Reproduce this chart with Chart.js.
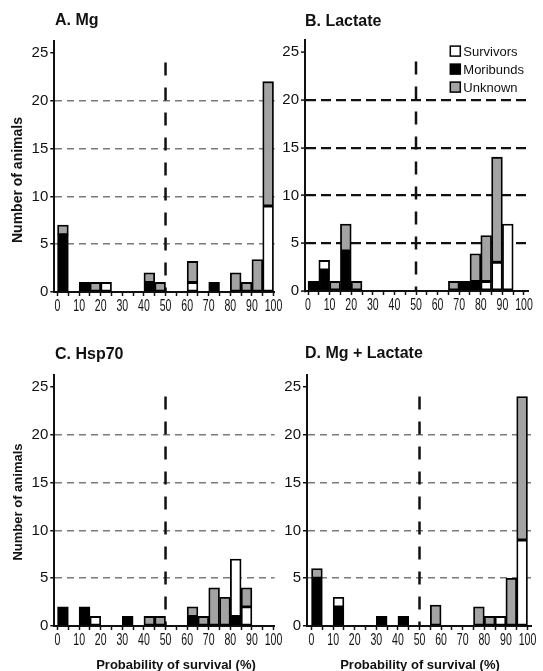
<!DOCTYPE html>
<html>
<head>
<meta charset="utf-8">
<script src="https://cdn.jsdelivr.net/npm/chart.js@4.4.1/dist/chart.umd.min.js"></script>
<style>
body { margin: 0; background: #fff; }
#wrap { position: relative; width: 543px; height: 671px; overflow: hidden; font-family: "Liberation Sans", Arial, sans-serif; color: #111; }
canvas { position: absolute; }
.t { position: absolute; white-space: nowrap; line-height: 1; font-weight: bold; }
.c { transform: translate(-50%, -50%); }
.r { transform: translate(-50%, -50%) rotate(-90deg); }
</style>
</head>
<body>
<div id="wrap">
  <canvas id="panelA" width="290" height="330" style="left:0;top:0"></canvas>
  <canvas id="panelB" width="271" height="330" style="left:272px;top:0"></canvas>
  <canvas id="panelC" width="290" height="341" style="left:0;top:330px"></canvas>
  <canvas id="panelD" width="271" height="341" style="left:272px;top:330px"></canvas>

  <div class="t" style="left:55px;top:12px;font-size:16px">A. Mg</div>
  <div class="t" style="left:305px;top:13px;font-size:16px">B. Lactate</div>
  <div class="t" style="left:55px;top:346px;font-size:16px">C. Hsp70</div>
  <div class="t" style="left:305px;top:345px;font-size:16px">D. Mg + Lactate</div>

  <div class="t r" style="left:17px;top:180px;font-size:14px">Number of animals</div>
  <div class="t r" style="left:17px;top:502px;font-size:13px">Number of animals</div>
  <div class="t c" style="left:176px;top:664px;font-size:13px">Probability of survival (%)</div>
  <div class="t c" style="left:420px;top:664px;font-size:13px">Probability of survival (%)</div>
</div>

<script>
// bins of 5 % width, 0-5, 5-10 ... 95-100
const binStarts = [0, 5, 10, 15, 20, 25, 30, 35, 40, 45, 50, 55, 60, 65, 70, 75, 80, 85, 90, 95];
const xTickValues = [0, 5, 10, 15, 20, 25, 30, 35, 40, 45, 50, 55, 60, 65, 70, 75, 80, 85, 90, 95, 100];
const xLabelValues = [0, 10, 20, 30, 40, 50, 60, 70, 80, 90, 100];
const yTickValues = [0, 5, 10, 15, 20, 25];
const gridValues = [5, 10, 15, 20];
const legendLabels = ["Survivors", "Moribunds", "Unknown"];
const cutoff = 50;
const cutoffTop = 24;

// A. Mg
const mgMoribunds = [6, null, 1, null, null, null, null, null, 1, null, null, null, null, null, 1, null, null, null, null, null];
const mgSurvivors = [null, null, null, null, 1, null, null, null, null, null, null, null, 1, null, null, null, null, null, null, 9];
const mgUnknown   = [1, null, null, 1, null, null, null, null, 1, 1, null, null, 2.2, null, null, null, 2, 1, 3.4, 13];

// B. Lactate
const lacMoribunds = [1, 2.2, null, 4.2, null, null, null, null, null, null, null, null, null, null, 1, 1, null, null, null, null];
const lacSurvivors = [null, 1, null, null, null, null, null, null, null, null, null, null, null, null, null, null, 1, 3, 7, null];
const lacUnknown   = [null, null, 1, 2.8, 1, null, null, null, null, null, null, null, null, 1, null, 2.9, 4.8, 11, null, null];

// C. Hsp70
const hspMoribunds = [2, null, 2, null, null, null, 1, null, null, null, null, null, 1, null, null, null, 1, null, null, null];
const hspSurvivors = [null, null, null, 1, null, null, null, null, null, null, null, null, null, null, null, null, 6, 2, null, null];
const hspUnknown   = [null, null, null, null, null, null, null, null, 1, 1, null, null, 1, 1, 4, 3, null, 2, null, null];

// D. Mg + Lactate
const mixMoribunds = [5, null, 2, null, null, null, 1, null, 1, null, null, null, null, null, null, null, null, null, null, null];
const mixSurvivors = [null, null, 1, null, null, null, null, null, null, null, null, null, null, null, null, null, null, 1, null, 9];
const mixUnknown   = [1, null, null, null, null, null, null, null, null, null, null, 2.2, null, null, null, 2, 1, null, 5, 15];

const fills = { Survivors: "#ffffff", Moribunds: "#000000", Unknown: "#a3a3a3" };

function series(arr) {
  return binStarts.map((s, i) => ({ x: s + 2.5, y: arr[i] }));
}

const cutoffLine = {
  id: "cutoffLine",
  beforeDatasetsDraw(chart) {
    const { ctx, scales: { x, y } } = chart;
    const px = x.getPixelForValue(cutoff);
    ctx.save();
    ctx.strokeStyle = "#111";
    ctx.lineWidth = 2.5;
    ctx.setLineDash([13, 12]);
    ctx.beginPath();
    ctx.moveTo(px, y.getPixelForValue(cutoffTop));
    ctx.lineTo(px, y.getPixelForValue(0));
    ctx.stroke();
    ctx.restore();
  }
};

// narrow x labels like the scanned figure
const narrowLabels = {
  id: "narrowLabels",
  afterDraw(chart) {
    const { ctx, scales: { x } } = chart;
    ctx.save();
    ctx.fillStyle = "#111";
    ctx.font = "17px 'Liberation Sans', Arial, sans-serif";
    ctx.textAlign = "center";
    ctx.textBaseline = "alphabetic";
    xLabelValues.forEach(v => {
      ctx.save();
      ctx.translate(x.getPixelForValue(v), x.top + 18.5);
      ctx.scale(0.62, 1);
      ctx.fillText(String(v), 0, 0);
      ctx.restore();
    });
    ctx.restore();
  }
};

const boxLegend = {
  id: "boxLegend",
  afterDraw(chart, args, opts) {
    if (!opts.show) return;
    const { ctx, chartArea } = chart;
    const bx = chartArea.right - 78;
    ctx.save();
    ctx.font = "13px 'Liberation Sans', Arial, sans-serif";
    ctx.textBaseline = "middle";
    legendLabels.forEach((lab, i) => {
      const cy = chartArea.top + 11.5 + i * 18;
      ctx.fillStyle = fills[lab];
      ctx.fillRect(bx, cy - 5, 10, 10);
      ctx.strokeStyle = "#000";
      ctx.lineWidth = 1.5;
      ctx.strokeRect(bx, cy - 5, 10, 10);
      ctx.fillStyle = "#111";
      ctx.fillText(lab, bx + 13, cy + 1);
    });
    ctx.restore();
  }
};

function makePanel(id, moribunds, survivors, unknown, lay) {
  const canvas = document.getElementById(id);
  new Chart(canvas, {
    type: "bar",
    data: {
      datasets: [
        { label: "Moribunds", data: series(moribunds), backgroundColor: fills.Moribunds },
        { label: "Survivors", data: series(survivors), backgroundColor: fills.Survivors },
        { label: "Unknown", data: series(unknown), backgroundColor: fills.Unknown }
      ]
    },
    options: {
      responsive: false,
      animation: false,
      layout: { padding: { left: 0, top: lay.top, right: canvas.width - lay.right, bottom: 0 } },
      datasets: {
        bar: {
          grouped: false,
          barPercentage: 1,
          categoryPercentage: 1,
          borderColor: "#000",
          borderWidth: 1.8,
          borderSkipped: false
        }
      },
      scales: {
        x: {
          type: "linear",
          min: lay.xmin,
          max: lay.xmax,
          offset: false,
          afterBuildTicks: s => { s.ticks = xTickValues.map(v => ({ value: v })); },
          afterFit: s => { s.height = canvas.height - lay.bottom; },
          ticks: { display: false },
          grid: { offset: false, drawOnChartArea: false, drawTicks: true, tickLength: 4, tickColor: "#111", tickWidth: 1.5 },
          border: { display: true, color: "#111", width: 2 }
        },
        y: {
          min: 0,
          max: 26.3,
          stacked: true,
          afterBuildTicks: s => { s.ticks = yTickValues.map(v => ({ value: v })); },
          afterFit: s => { s.width = lay.left; },
          ticks: {
            padding: 2,
            color: "#111",
            font: { family: "'Liberation Sans', Arial, sans-serif", size: 15 }
          },
          grid: {
            color: ctx => (ctx.tick && gridValues.includes(ctx.tick.value) ? lay.gridColor : "rgba(0,0,0,0)"),
            lineWidth: lay.gridWidth,
            drawTicks: true,
            tickLength: 4,
            tickColor: "#111",
            tickWidth: 1.5,
            tickBorderDash: []
          },
          border: { display: true, color: "#111", width: 2, dash: lay.gridDash }
        }
      },
      plugins: {
        legend: { display: false },
        tooltip: { enabled: false },
        boxLegend: { show: !!lay.legend }
      }
    },
    plugins: [cutoffLine, narrowLabels, boxLegend]
  });
}

makePanel("panelA", mgMoribunds, mgSurvivors, mgUnknown,
  { left: 54.3, right: 274.6, top: 40.6, bottom: 292, xmin: -1.5, xmax: 100.5, gridColor: "#7a7a7a", gridWidth: 1.5, gridDash: [7, 5] });
makePanel("panelB", lacMoribunds, lacSurvivors, lacUnknown,
  { left: 33, right: 256.3, top: 39.6, bottom: 291, xmin: -1.4, xmax: 102, gridColor: "#111", gridWidth: 2.2, gridDash: [10, 5], legend: true });
makePanel("panelC", hspMoribunds, hspSurvivors, hspUnknown,
  { left: 54.3, right: 274.6, top: 44.6, bottom: 296, xmin: -1.5, xmax: 100.5, gridColor: "#7a7a7a", gridWidth: 1.5, gridDash: [7, 5] });
makePanel("panelD", mixMoribunds, mixSurvivors, mixUnknown,
  { left: 35, right: 259.8, top: 44.6, bottom: 296, xmin: -2.1, xmax: 102, gridColor: "#7a7a7a", gridWidth: 1.5, gridDash: [7, 5] });
</script>
</body>
</html>
